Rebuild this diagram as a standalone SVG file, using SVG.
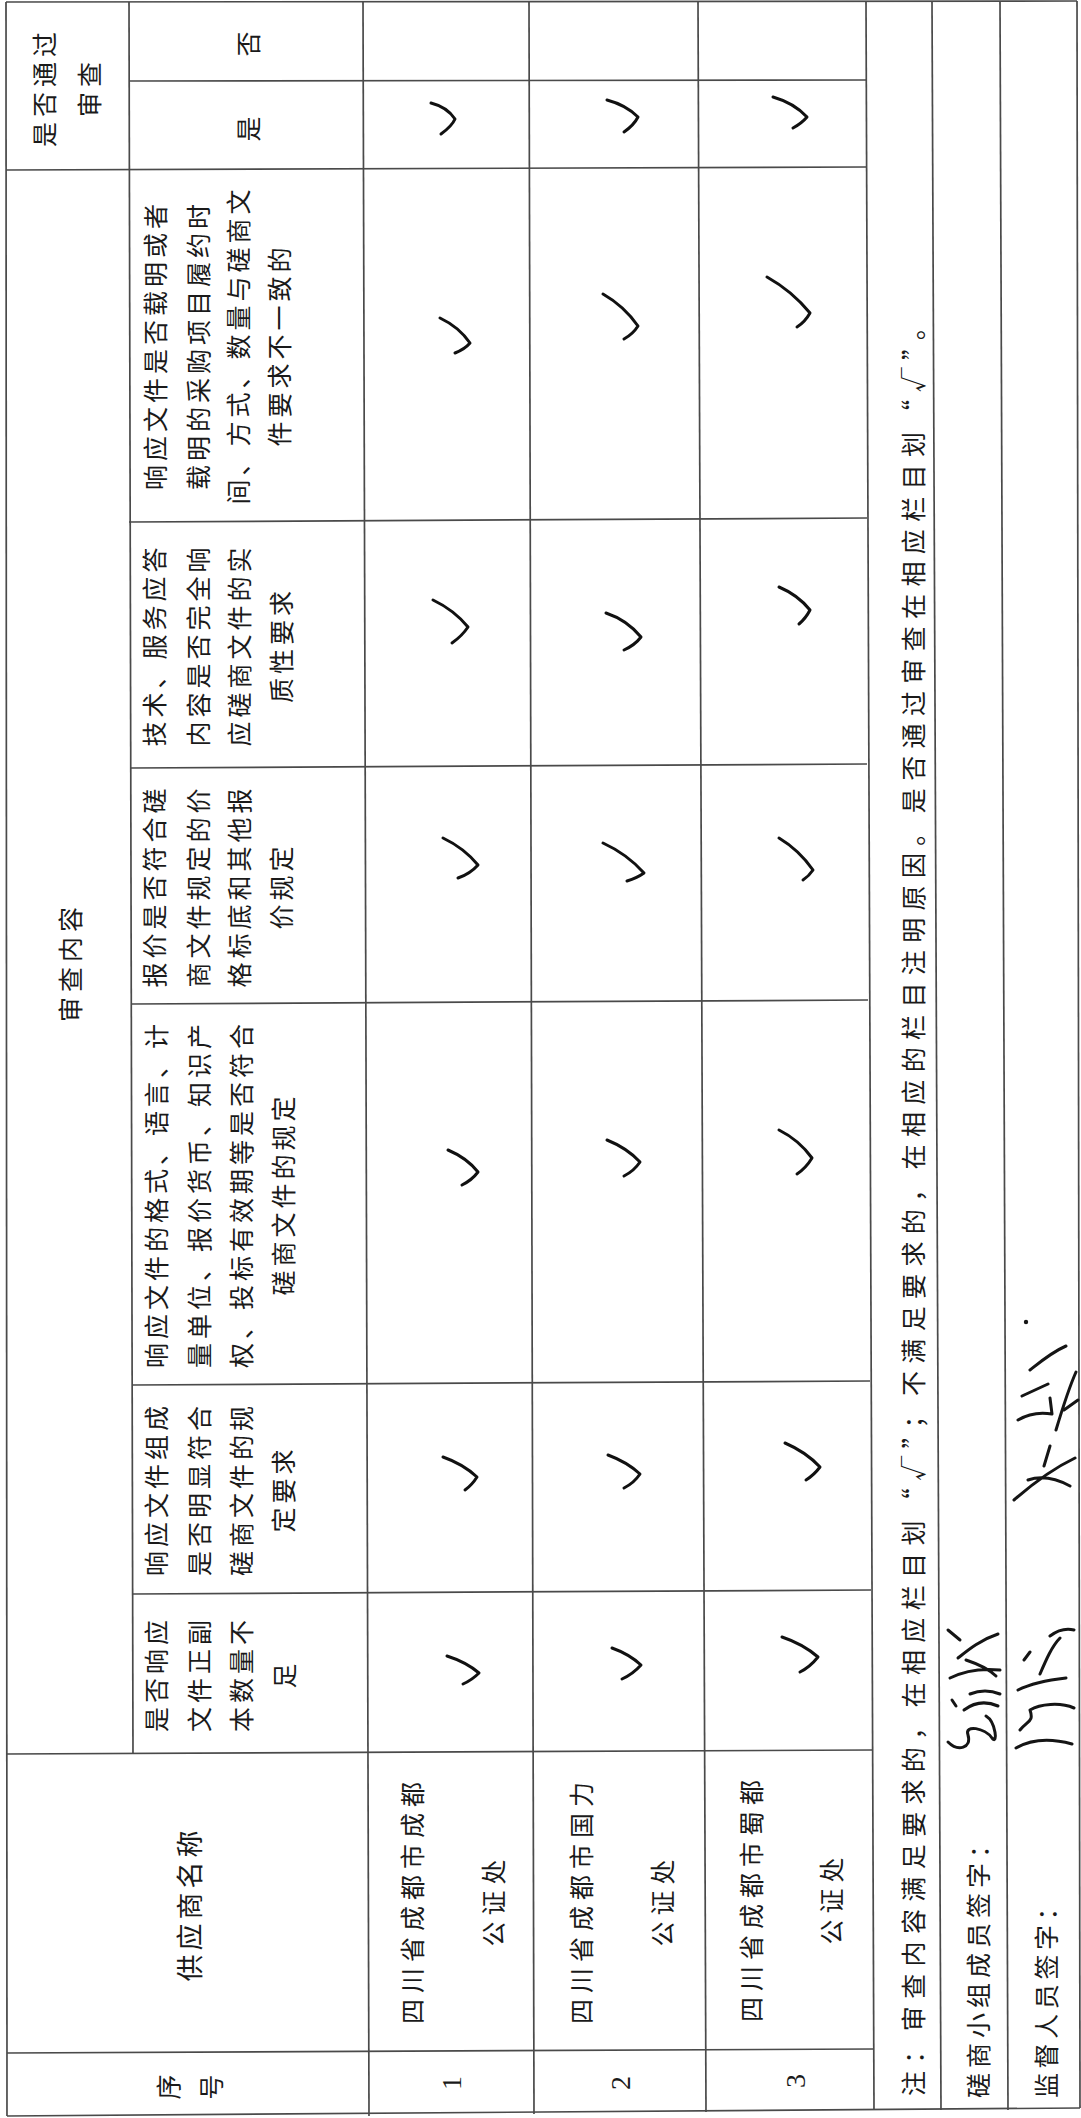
<svg xmlns="http://www.w3.org/2000/svg" width="1081" height="2118" viewBox="0 0 1081 2118">
<style>
.ln{stroke:#4a4a4a;stroke-width:1.7;fill:none}
.t{font-family:"Noto Sans CJK SC","Noto Sans",sans-serif;font-size:25px;fill:#1a1a1a;text-anchor:middle;dominant-baseline:central;letter-spacing:4px}
.ts{text-anchor:start}
.num{font-family:"Liberation Serif",serif;font-size:28px;fill:#1a1a1a;text-anchor:middle;dominant-baseline:central}
.ck{stroke:#111;stroke-width:3;fill:none;stroke-linecap:round;stroke-linejoin:round}
.sg{stroke:#151515;stroke-width:3;fill:none;stroke-linecap:round;stroke-linejoin:round}
</style>
<rect width="1081" height="2118" fill="#ffffff"/>
<g id="grid">
<line class="ln" x1="6" y1="2" x2="7" y2="2116"/>
<line class="ln" x1="129" y1="2" x2="133" y2="1754"/>
<line class="ln" x1="363" y1="2" x2="369" y2="2116"/>
<line class="ln" x1="529" y1="2" x2="534" y2="2114"/>
<line class="ln" x1="698" y1="2" x2="706" y2="2112"/>
<line class="ln" x1="866" y1="2" x2="874" y2="2110"/>
<line class="ln" x1="932" y1="2" x2="941" y2="2110"/>
<line class="ln" x1="1000" y1="2" x2="1008" y2="2110"/>
<line class="ln" x1="1077" y1="1" x2="1080" y2="2108"/>
<line class="ln" x1="6" y1="2" x2="1077" y2="1"/>
<line class="ln" x1="129" y1="81" x2="866" y2="80"/>
<line class="ln" x1="6" y1="170" x2="866" y2="167"/>
<line class="ln" x1="129" y1="522" x2="867" y2="518"/>
<line class="ln" x1="130" y1="768" x2="867" y2="764"/>
<line class="ln" x1="131" y1="1004" x2="868" y2="1000"/>
<line class="ln" x1="132" y1="1385" x2="870" y2="1381"/>
<line class="ln" x1="132" y1="1594" x2="871" y2="1590"/>
<line class="ln" x1="6" y1="1754" x2="872" y2="1750"/>
<line class="ln" x1="7" y1="2053" x2="874" y2="2049"/>
<line class="ln" x1="7" y1="2116" x2="1080" y2="2108"/>
</g>
<g id="hdr-pass">
<text class="t" transform="translate(43,87) rotate(-90)" style="letter-spacing:5px">是否通过</text>
<text class="t" transform="translate(88,87) rotate(-90)" style="letter-spacing:5px">审查</text>
</g>
<g id="hdr-no"><text class="t" transform="translate(247,42) rotate(-90)">否</text></g>
<g id="hdr-yes"><text class="t" transform="translate(247,127) rotate(-90)">是</text></g>
<g id="hdr-review"><text class="t" transform="translate(69,962) rotate(-90)" style="letter-spacing:5px">审查内容</text></g>
<g id="col-a">
<text class="t" transform="translate(154,345) rotate(-90)">响应文件是否载明或者</text>
<text class="t" transform="translate(197,345) rotate(-90)">载明的采购项目履约时</text>
<text class="t" transform="translate(237,345) rotate(-90)">间、方式、数量与磋商文</text>
<text class="t" transform="translate(278,345) rotate(-90)">件要求不一致的</text>
</g>
<g id="col-b">
<text class="t" transform="translate(153,645) rotate(-90)">技术、服务应答</text>
<text class="t" transform="translate(197,645) rotate(-90)">内容是否完全响</text>
<text class="t" transform="translate(238,645) rotate(-90)">应磋商文件的实</text>
<text class="t" transform="translate(280,645) rotate(-90)">质性要求</text>
</g>
<g id="col-c">
<text class="t" transform="translate(153,886) rotate(-90)">报价是否符合磋</text>
<text class="t" transform="translate(197,886) rotate(-90)">商文件规定的价</text>
<text class="t" transform="translate(238,886) rotate(-90)">格标底和其他报</text>
<text class="t" transform="translate(280,886) rotate(-90)">价规定</text>
</g>
<g id="col-d">
<text class="t" transform="translate(155,1194) rotate(-90)">响应文件的格式、语言、计</text>
<text class="t" transform="translate(198,1194) rotate(-90)">量单位、报价货币、知识产</text>
<text class="t" transform="translate(240,1194) rotate(-90)">权、投标有效期等是否符合</text>
<text class="t" transform="translate(282,1194) rotate(-90)">磋商文件的规定</text>
</g>
<g id="col-e">
<text class="t" transform="translate(155,1489) rotate(-90)">响应文件组成</text>
<text class="t" transform="translate(198,1489) rotate(-90)">是否明显符合</text>
<text class="t" transform="translate(240,1489) rotate(-90)">磋商文件的规</text>
<text class="t" transform="translate(282,1489) rotate(-90)">定要求</text>
</g>
<g id="col-f">
<text class="t" transform="translate(155,1674) rotate(-90)">是否响应</text>
<text class="t" transform="translate(198,1674) rotate(-90)">文件正副</text>
<text class="t" transform="translate(240,1674) rotate(-90)">本数量不</text>
<text class="t" transform="translate(283,1674) rotate(-90)">足</text>
</g>
<g id="hdr-supplier"><text class="t" transform="translate(188,1904) rotate(-90)" style="font-size:27px;letter-spacing:4px">供应商名称</text></g>
<g id="hdr-no-seq">
<text class="t" transform="translate(167,2085) rotate(-90)">序</text>
<text class="t" transform="translate(210,2085) rotate(-90)">号</text>
</g>
<g id="row1">
<text class="num" transform="translate(451,2083) rotate(-90)">1</text>
<text class="t" transform="translate(411,1900) rotate(-90)" style="letter-spacing:6px">四川省成都市成都</text>
<text class="t" transform="translate(492,1900) rotate(-90)" style="letter-spacing:6px">公证处</text>
</g>
<g id="row2">
<text class="num" transform="translate(620,2083) rotate(-90)">2</text>
<text class="t" transform="translate(580,1900) rotate(-90)" style="letter-spacing:6px">四川省成都市国力</text>
<text class="t" transform="translate(661,1900) rotate(-90)" style="letter-spacing:6px">公证处</text>
</g>
<g id="row3">
<text class="num" transform="translate(795,2081) rotate(-90)">3</text>
<text class="t" transform="translate(750,1898) rotate(-90)" style="letter-spacing:6px">四川省成都市蜀都</text>
<text class="t" transform="translate(830,1898) rotate(-90)" style="letter-spacing:6px">公证处</text>
</g>
<g id="note"><text class="t ts" transform="translate(912,2096) rotate(-90)" textLength="1781" lengthAdjust="spacing" style="letter-spacing:0">注：审查内容满足要求的，在相应栏目划“√”；不满足要求的，在相应的栏目注明原因。是否通过审查在相应栏目划“√”。</text></g>
<g id="sign-panel"><text class="t ts" transform="translate(977,2098) rotate(-90)" style="letter-spacing:5px">磋商小组成员签字：</text></g>
<g id="sign-supervisor"><text class="t ts" transform="translate(1045,2098) rotate(-90)" style="letter-spacing:4.6px">监督人员签字：</text></g>
<g id="checks">
<path class="ck" d="M431,103 Q447,107 455,119 Q452,126 441,134"/>
<path class="ck" d="M607,100 Q626,105 638,117 Q634,125 624,132"/>
<path class="ck" d="M773,97 Q794,103 807,117 Q802,123 793,128"/>
<path class="ck" d="M440,318 Q459,327 470,343 Q465,349 455,353"/>
<path class="ck" d="M603,294 Q624,306 638,326 Q633,334 624,339"/>
<path class="ck" d="M767,277 Q792,291 810,313 Q805,322 797,327"/>
<path class="ck" d="M433,600 Q454,610 468,627 Q462,636 452,643"/>
<path class="ck" d="M606,613 Q627,620 641,637 Q635,645 624,650"/>
<path class="ck" d="M779,587 Q798,595 810,610 Q806,618 799,624"/>
<path class="ck" d="M443,838 Q464,848 478,865 Q470,874 458,878"/>
<path class="ck" d="M603,843 Q627,854 644,873 Q637,878 627,881"/>
<path class="ck" d="M779,838 Q799,850 813,870 Q809,876 803,880"/>
<path class="ck" d="M448,1150 Q467,1158 478,1172 Q472,1180 462,1185"/>
<path class="ck" d="M607,1140 Q627,1148 640,1162 Q634,1171 624,1176"/>
<path class="ck" d="M779,1130 Q799,1140 812,1158 Q806,1168 797,1174"/>
<path class="ck" d="M443,1457 Q463,1464 477,1477 Q472,1485 465,1490"/>
<path class="ck" d="M608,1455 Q627,1462 640,1474 Q634,1483 624,1488"/>
<path class="ck" d="M785,1443 Q806,1452 820,1467 Q814,1475 806,1480"/>
<path class="ck" d="M447,1656 Q466,1662 479,1673 Q472,1680 463,1684"/>
<path class="ck" d="M612,1648 Q629,1654 641,1665 Q633,1674 622,1679"/>
<path class="ck" d="M782,1637 Q803,1644 818,1657 Q810,1667 800,1672"/>
</g>
<g id="signatures">
<path class="sg" d="M948,1742 C958,1752 972,1748 968,1735 C964,1724 985,1728 992,1738 C998,1746 996,1722 986,1716"/>
<path class="sg" d="M952,1700 L956,1706 M964,1710 C972,1704 984,1700 998,1706 M970,1694 C980,1690 990,1690 1000,1694"/>
<path class="sg" d="M950,1678 C962,1672 980,1668 1000,1670 M958,1658 C968,1650 980,1640 998,1634 M966,1660 C978,1664 988,1668 996,1676 M960,1640 L948,1630"/>
<path class="sg" d="M1016,1748 C1030,1740 1050,1738 1072,1744 M1020,1730 C1028,1720 1034,1722 1030,1710 C1040,1704 1060,1702 1074,1708"/>
<path class="sg" d="M1018,1690 C1030,1684 1048,1680 1066,1678 M1040,1674 C1046,1660 1052,1646 1060,1638 M1024,1660 L1030,1652 M1050,1636 C1058,1630 1066,1628 1074,1630"/>
<path class="sg" d="M1014,1500 C1030,1486 1050,1470 1075,1458 M1028,1480 C1040,1476 1055,1478 1070,1486 M1044,1466 L1050,1446"/>
<path class="sg" d="M1018,1420 C1028,1414 1040,1412 1052,1414 L1050,1398 M1022,1396 L1048,1384 M1056,1430 C1062,1410 1068,1390 1076,1372 M1030,1370 C1040,1362 1052,1352 1066,1346 M1064,1410 L1078,1400"/>
<circle cx="1026" cy="1322" r="2.2" fill="#151515"/>
</g>
</svg>
